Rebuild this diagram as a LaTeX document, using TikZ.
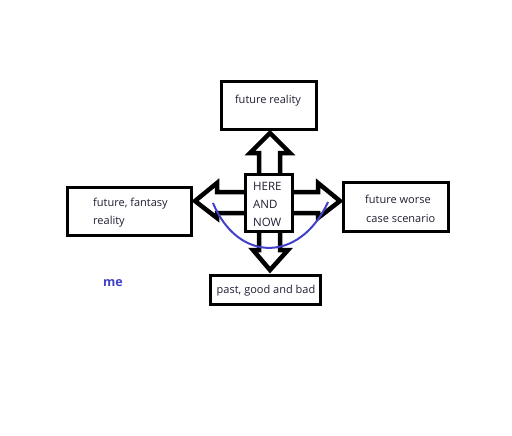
\documentclass[tikz,border=0pt]{standalone}
\usepackage{fontspec}
\setmainfont{Open Sans}
\definecolor{inkblue}{RGB}{64,64,200}
\definecolor{txt}{RGB}{30,30,50}
\begin{document}
\begin{tikzpicture}[x=1pt,y=-1pt,
  box/.style={draw, line width=3.4pt, inner sep=0pt, minimum width=#1},
  lbl/.style={inner sep=0pt, text=txt, font=\fontsize{11}{13}\selectfont},
  caps/.style={lbl, font=\fontsize{11.5}{13}\selectfont},
  blockarrow/.style={draw, line width=4.5pt, line join=miter, miter limit=10}]
\useasboundingbox (0,0) rectangle (512,436);
% boxes
\node[box=95pt, minimum height=48pt] (top) at (269,105.5) {};
\node[box=124pt, minimum height=48pt] (left) at (129.5,211.5) {};
\node[box=105pt, minimum height=49pt] (right) at (396,207) {};
\node[box=110pt, minimum height=29pt] (bottom) at (265.5,290) {};
\node[box=47pt, minimum height=57pt] (here) at (269,203) {};
% texts
\node[lbl] (ttop) at (268,101) {future reality};
\node[lbl, anchor=west] (tleft1) at (93,204) {future, fantasy};
\node[lbl, anchor=west] (tleft2) at (93,222) {reality};
\node[lbl, anchor=west] (tright1) at (365,199) {future worse};
\node[lbl, anchor=west] (tright2) at (366,219) {case scenario};
\node[lbl] (tbottom) at (266,291) {past, good and bad};
\node[caps, anchor=west] (th1) at (253,186) {HERE};
\node[caps, anchor=west] (th2) at (253,204) {AND};
\node[caps, anchor=west] (th3) at (253,222) {NOW};
\node[lbl, text=inkblue, font=\fontsize{12.5}{14}\selectfont\bfseries] (me) at (113,283) {me};
% block arrows
\draw[blockarrow] (259,175) -- (259,153) -- (250,153) -- (270,133) -- (290,153) -- (280,153) -- (280,175);
\draw[blockarrow] (259,232) -- (259,250) -- (253,250) -- (270,270) -- (288,250) -- (280,250) -- (280,232);
\draw[blockarrow] (245,192) -- (217,192) -- (217,183) -- (195,201) -- (217,218) -- (217,213) -- (245,213);
\draw[blockarrow] (293,192) -- (318,192) -- (318,183) -- (340,201) -- (318,218) -- (318,213) -- (293,213);
% curve
\draw[inkblue, line width=2pt] (213,203) .. controls (238,263) and (300,263) .. (328,202);
\end{tikzpicture}
\end{document}
